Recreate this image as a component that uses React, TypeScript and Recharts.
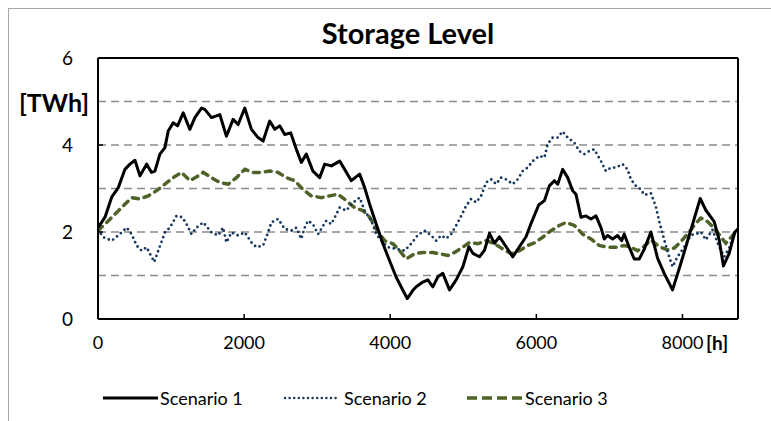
import React from "react";
import { LineChart, Line, XAxis, YAxis, ReferenceLine } from "recharts";

const xTicks = [0, 2000, 4000, 6000, 8000];
const yTicks = [0, 2, 4, 6];
const gridValues = [1, 2, 3, 4, 5];
const seriesNames = ["Scenario 1", "Scenario 2", "Scenario 3"];

const s1Hours = [0, 96, 187, 278, 369, 437, 506, 574, 665, 733, 779, 847, 916, 961, 1030, 1089, 1166, 1257, 1326, 1417, 1462, 1553, 1667, 1758, 1849, 1918, 2009, 2100, 2191, 2260, 2350, 2419, 2487, 2556, 2637, 2715, 2783, 2851, 2942, 3034, 3103, 3194, 3308, 3376, 3467, 3581, 3650, 3718, 3809, 3900, 3991, 4082, 4173, 4233, 4310, 4356, 4446, 4515, 4583, 4652, 4720, 4811, 4903, 4994, 5076, 5131, 5221, 5290, 5358, 5426, 5495, 5586, 5677, 5768, 5859, 5928, 6032, 6110, 6178, 6246, 6292, 6360, 6429, 6497, 6542, 6611, 6679, 6747, 6816, 6884, 6930, 6975, 7044, 7112, 7167, 7203, 7271, 7340, 7408, 7476, 7568, 7659, 7750, 7864, 7978, 8115, 8243, 8320, 8434, 8502, 8561, 8639, 8717, 8760];
const s1Values = [2.1, 2.34, 2.8, 3.02, 3.44, 3.56, 3.65, 3.29, 3.56, 3.37, 3.4, 3.79, 3.94, 4.32, 4.51, 4.44, 4.74, 4.36, 4.63, 4.85, 4.82, 4.63, 4.7, 4.2, 4.59, 4.47, 4.85, 4.36, 4.17, 4.09, 4.55, 4.36, 4.44, 4.24, 4.28, 3.9, 3.6, 3.79, 3.4, 3.25, 3.56, 3.52, 3.63, 3.44, 3.18, 3.33, 3.02, 2.64, 2.18, 1.73, 1.34, 0.96, 0.66, 0.47, 0.66, 0.74, 0.85, 0.9, 0.74, 0.97, 1.05, 0.67, 0.9, 1.2, 1.66, 1.51, 1.43, 1.58, 1.97, 1.74, 1.89, 1.66, 1.43, 1.66, 1.89, 2.2, 2.62, 2.72, 3.06, 3.18, 3.1, 3.44, 3.25, 2.95, 2.87, 2.34, 2.37, 2.3, 2.37, 2.1, 1.84, 1.92, 1.84, 1.92, 1.8, 1.95, 1.65, 1.38, 1.38, 1.6, 2.0, 1.4, 1.05, 0.67, 1.28, 2.05, 2.77, 2.5, 2.24, 1.82, 1.22, 1.51, 2.0, 2.07];

const s2Hours = [0, 73, 187, 278, 392, 460, 528, 597, 665, 711, 770, 825, 916, 984, 1075, 1153, 1212, 1280, 1349, 1440, 1553, 1644, 1712, 1758, 1826, 1918, 2009, 2100, 2169, 2260, 2328, 2374, 2465, 2556, 2647, 2715, 2783, 2829, 2874, 2942, 3012, 3125, 3194, 3308, 3399, 3467, 3581, 3650, 3741, 3809, 3878, 3969, 4082, 4196, 4287, 4378, 4470, 4561, 4629, 4697, 4766, 4834, 4903, 4971, 5039, 5108, 5176, 5244, 5313, 5381, 5449, 5517, 5586, 5677, 5745, 5813, 5881, 5950, 6041, 6110, 6155, 6224, 6292, 6360, 6429, 6520, 6588, 6656, 6725, 6793, 6884, 6952, 7021, 7089, 7180, 7248, 7294, 7362, 7431, 7477, 7568, 7636, 7682, 7750, 7818, 7864, 7932, 8023, 8115, 8183, 8251, 8320, 8411, 8502, 8570, 8639, 8717, 8760];
const s2Values = [2.05, 1.88, 1.8, 1.92, 2.1, 1.95, 1.69, 1.57, 1.65, 1.5, 1.31, 1.57, 1.99, 2.1, 2.37, 2.34, 2.18, 1.95, 2.1, 2.22, 1.99, 1.92, 2.1, 1.76, 1.99, 1.92, 1.99, 1.76, 1.65, 1.69, 1.99, 2.22, 2.3, 2.07, 2.03, 2.1, 1.84, 2.1, 2.26, 2.18, 1.95, 2.26, 2.18, 2.56, 2.49, 2.64, 2.79, 2.49, 2.26, 1.95, 1.8, 1.65, 1.61, 1.57, 1.73, 1.93, 2.03, 1.92, 1.8, 1.92, 1.85, 1.95, 2.15, 2.37, 2.6, 2.76, 2.68, 2.83, 3.14, 3.21, 3.1, 3.25, 3.21, 3.1, 3.21, 3.4, 3.48, 3.63, 3.75, 3.71, 4.02, 4.17, 4.17, 4.31, 4.17, 4.05, 3.86, 3.79, 3.86, 3.9, 3.63, 3.4, 3.48, 3.48, 3.56, 3.44, 3.21, 3.06, 2.98, 2.85, 2.89, 2.58, 2.24, 1.82, 1.43, 1.2, 1.43, 1.65, 1.93, 1.95, 2.0, 1.82, 2.05, 1.66, 1.43, 1.63, 2.0, 2.07];

const s3Hours = [0, 118, 232, 346, 460, 574, 688, 802, 916, 1030, 1143, 1257, 1371, 1440, 1553, 1667, 1781, 1895, 2009, 2123, 2237, 2350, 2465, 2578, 2692, 2806, 2920, 3057, 3171, 3285, 3399, 3513, 3627, 3718, 3809, 3923, 4037, 4128, 4219, 4333, 4446, 4584, 4675, 4789, 4880, 4994, 5085, 5199, 5313, 5426, 5540, 5654, 5768, 5881, 5973, 6087, 6201, 6315, 6406, 6520, 6634, 6747, 6861, 6975, 7089, 7203, 7294, 7385, 7477, 7568, 7682, 7796, 7887, 7978, 8092, 8183, 8251, 8343, 8434, 8525, 8593, 8671, 8760];
const s3Values = [2.03, 2.22, 2.41, 2.6, 2.79, 2.76, 2.83, 2.95, 3.1, 3.25, 3.37, 3.18, 3.29, 3.37, 3.25, 3.14, 3.1, 3.25, 3.44, 3.37, 3.37, 3.4, 3.37, 3.25, 3.18, 2.98, 2.83, 2.79, 2.83, 2.87, 2.72, 2.56, 2.49, 2.34, 2.07, 1.8, 1.73, 1.57, 1.38, 1.5, 1.53, 1.53, 1.5, 1.46, 1.53, 1.65, 1.76, 1.73, 1.8, 1.73, 1.61, 1.5, 1.57, 1.69, 1.75, 1.88, 2.03, 2.15, 2.22, 2.15, 1.95, 1.84, 1.69, 1.65, 1.65, 1.69, 1.65, 1.57, 1.67, 1.82, 1.66, 1.59, 1.63, 1.78, 2.0, 2.2, 2.32, 2.24, 2.09, 1.89, 1.74, 1.89, 2.07];

const toData = (hours: number[], values: number[]) => hours.map((h, i) => ({ h, v: values[i] }));
const d1 = toData(s1Hours, s1Values);
const d2 = toData(s2Hours, s2Values);
const d3 = toData(s3Hours, s3Values);

const FONT = "Lato, 'Open Sans', sans-serif";
const C1 = "#000000";
const C2 = "#17375E";
const C3 = "#4F6228";

export default function App() {
  return (
    <div style={{ position: "absolute", left: 0, top: 0, width: 771, height: 421, overflow: "hidden", background: "#fff", fontFamily: FONT }}>
      <div style={{ position: "absolute", left: 8, top: 8, width: 900, height: 600, border: "1px solid #a6a6a6" }} />
      <div style={{ position: "absolute", left: 0, width: 816, top: 15, lineHeight: "36px", textAlign: "center", fontSize: 29, fontWeight: 700, color: "#000" }}>
        Storage Level
      </div>
      <div style={{ position: "absolute", left: 19, top: 87, lineHeight: "30px", fontSize: 25, fontWeight: 700, color: "#000" }}>[TWh]</div>
      <div style={{ position: "absolute", left: 706, top: 331, lineHeight: "24px", fontSize: 19, fontWeight: 700, color: "#000" }}>[h]</div>
      <div style={{ position: "absolute", left: 0, top: 0 }}>
        <LineChart width={771} height={421} margin={{ top: 58, right: 33, bottom: 72, left: 38 }}>
          <XAxis
            dataKey="h"
            type="number"
            domain={[0, 8760]}
            ticks={xTicks}
            allowDataOverflow
            height={30}
            axisLine={{ stroke: "#000", strokeWidth: 2 }}
            tickLine={{ stroke: "#000", strokeWidth: 1.5 }}
            tickSize={-5}
            tickMargin={22}
            tick={{ fill: "#000", fontSize: 18, fontFamily: FONT }}
          />
          <YAxis
            type="number"
            domain={[0, 6]}
            ticks={yTicks}
            allowDataOverflow
            width={60}
            axisLine={{ stroke: "#000", strokeWidth: 2 }}
            tickLine={{ stroke: "#000", strokeWidth: 1.5 }}
            tickSize={-5}
            tickMargin={30}
            tick={{ fill: "#000", fontSize: 19, fontFamily: FONT }}
          />
          {gridValues.map((g) => (
            <ReferenceLine key={g} y={g} stroke="#8c8c8c" strokeWidth={1.5} strokeDasharray="8 5" />
          ))}
          <ReferenceLine y={6} stroke="#000" strokeWidth={2} />
          <ReferenceLine x={8760} stroke="#000" strokeWidth={2} />
          <Line data={d3} dataKey="v" name={seriesNames[2]} type="linear" stroke={C3} strokeWidth={3.5} strokeDasharray="6 6" strokeLinecap="round" dot={false} isAnimationActive={false} />
          <Line data={d2} dataKey="v" name={seriesNames[1]} type="linear" stroke={C2} strokeWidth={2.8} strokeDasharray="0 5" strokeLinecap="round" dot={false} isAnimationActive={false} />
          <Line data={d1} dataKey="v" name={seriesNames[0]} type="linear" stroke={C1} strokeWidth={3} strokeLinejoin="round" dot={false} isAnimationActive={false} />
        </LineChart>
      </div>
      <div style={{ position: "absolute", top: 386, left: 0, width: 771, height: 24 }}>
        <svg style={{ position: "absolute", left: 103, top: 0 }} width={56} height={24}>
          <line x1={0} y1={12} x2={55} y2={12} stroke={C1} strokeWidth={3} />
        </svg>
        <div style={{ position: "absolute", left: 160, top: 0, lineHeight: "24px", fontSize: 18, color: "#000" }}>{seriesNames[0]}</div>
        <svg style={{ position: "absolute", left: 283, top: 0 }} width={58} height={24}>
          <line x1={2} y1={12} x2={57} y2={12} stroke={C2} strokeWidth={2.5} strokeDasharray="0 4.6" strokeLinecap="round" />
        </svg>
        <div style={{ position: "absolute", left: 344, top: 0, lineHeight: "24px", fontSize: 18, color: "#000" }}>{seriesNames[1]}</div>
        <svg style={{ position: "absolute", left: 467, top: 0 }} width={56} height={24}>
          <line x1={0} y1={12} x2={56} y2={12} stroke={C3} strokeWidth={3.5} strokeDasharray="10 5" />
        </svg>
        <div style={{ position: "absolute", left: 525, top: 0, lineHeight: "24px", fontSize: 18, color: "#000" }}>{seriesNames[2]}</div>
      </div>
    </div>
  );
}
